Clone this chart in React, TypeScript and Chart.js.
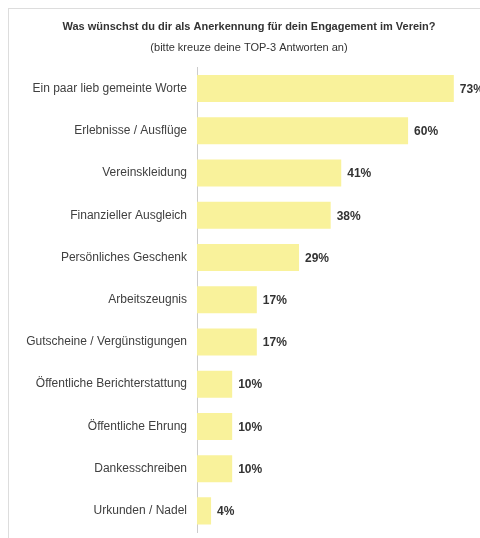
import React, { useEffect, useRef } from "react";
import { Chart, registerables } from "chart.js";

Chart.register(...registerables);

const titleText = "Was wünschst du dir als Anerkennung für dein Engagement im Verein?";
const subtitleText = "(bitte kreuze deine TOP-3 Antworten an)";

const categories = [
  "Ein paar lieb gemeinte Worte",
  "Erlebnisse / Ausflüge",
  "Vereinskleidung",
  "Finanzieller Ausgleich",
  "Persönliches Geschenk",
  "Arbeitszeugnis",
  "Gutscheine / Vergünstigungen",
  "Öffentliche Berichterstattung",
  "Öffentliche Ehrung",
  "Dankesschreiben",
  "Urkunden / Nadel",
];

const values = [73, 60, 41, 38, 29, 17, 17, 10, 10, 10, 4];

const FONT = "'Liberation Sans', Arial, sans-serif";

const valueLabels = {
  id: "valueLabels",
  afterDatasetsDraw(chart: any) {
    const ctx = chart.ctx;
    const meta = chart.getDatasetMeta(0);
    ctx.save();
    ctx.font = `bold 12px ${FONT}`;
    ctx.fillStyle = "#333333";
    ctx.textAlign = "left";
    ctx.textBaseline = "middle";
    meta.data.forEach((bar: any, i: number) => {
      ctx.fillText(`${values[i]}%`, bar.x + 6, bar.y + 1);
    });
    ctx.restore();
  },
};

export default function App() {
  const ref = useRef<HTMLCanvasElement>(null);

  useEffect(() => {
    document.documentElement.style.overflow = "hidden";
    document.body.style.marginRight = "0px";
    document.body.style.marginBottom = "0px";
    if (!ref.current) return;
    const chart = new Chart(ref.current, {
      type: "bar",
      data: {
        labels: categories,
        datasets: [
          {
            data: values,
            backgroundColor: "#F9F29B",
            borderWidth: 0,
            barPercentage: 0.8,
            categoryPercentage: 0.8,
          },
        ],
      },
      options: {
        indexAxis: "y",
        responsive: false,
        animation: false,
        devicePixelRatio: 1,
        layout: { padding: { top: 0, right: 0, bottom: 6, left: 0 } },
        plugins: {
          legend: { display: false },
          tooltip: { enabled: false },
          title: {
            display: true,
            text: titleText,
            color: "#333333",
            font: { family: FONT, size: 11, weight: "bold" },
            padding: { top: 11, bottom: 8 },
          },
          subtitle: {
            display: true,
            text: subtitleText,
            color: "#333333",
            font: { family: FONT, size: 11 },
            padding: { top: 0, bottom: 13 },
          },
        },
        scales: {
          x: {
            display: false,
            min: 0,
            max: 83,
          },
          y: {
            afterFit: (scale: any) => {
              scale.width = 188;
              scale.paddingTop = 0;
              scale.paddingBottom = 0;
            },
            grid: { display: false, drawTicks: false },
            border: { display: true, color: "#cccccc", width: 1 },
            ticks: {
              color: "#404040",
              padding: 10,
              font: { family: FONT, size: 12 },
            },
          },
        },
      },
      plugins: [valueLabels],
    });
    return () => chart.destroy();
  }, []);

  return (
    <div
      style={{
        width: 472,
        height: 530,
        overflow: "hidden",
        borderTop: "1px solid #dddddd",
        borderLeft: "1px solid #dddddd",
        background: "#ffffff",
      }}
    >
      <canvas ref={ref} width={480} height={529} style={{ display: "block" }} />
    </div>
  );
}
